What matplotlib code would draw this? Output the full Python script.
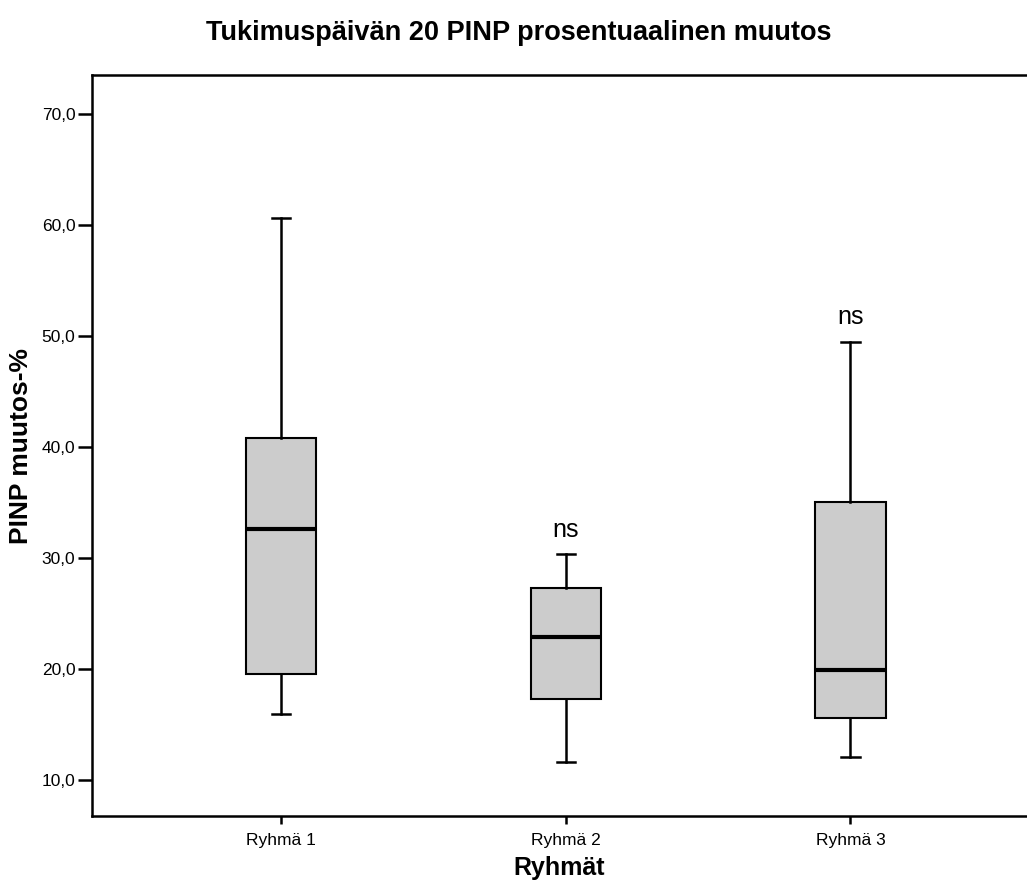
import matplotlib
matplotlib.use('Agg')
import matplotlib.pyplot as plt  # noqa

plt.rcParams.update({
    'font.family': ['Liberation Sans', 'DejaVu Sans'],
})

groups = ['Ryhmä 1', 'Ryhmä 2', 'Ryhmä 3']
whisker_low = [15.95, 11.7, 12.1]
q1 = [19.55, 17.3, 15.6]
median = [32.6, 22.9, 19.9]
q3 = [40.8, 27.3, 35.1]
whisker_high = [60.6, 30.4, 49.5]
sig_labels = ['', 'ns', 'ns']
yticks = [10, 20, 30, 40, 50, 60, 70]

stats = []
for i, name in enumerate(groups):
    stats.append({
        'label': name,
        'whislo': whisker_low[i],
        'q1': q1[i],
        'med': median[i],
        'q3': q3[i],
        'whishi': whisker_high[i],
        'fliers': [],
    })

fig = plt.figure(figsize=(10.27, 8.89), dpi=100)
ax = fig.add_axes([0.0896, 0.0821, 0.9104, 0.8335])

positions = list(range(1, len(groups) + 1))
ax.bxp(
    stats, positions=positions, widths=0.246, patch_artist=True,
    showfliers=False,
    boxprops=dict(facecolor='#cccccc', edgecolor='black', linewidth=1.5),
    medianprops=dict(color='black', linewidth=3),
    whiskerprops=dict(color='black', linewidth=1.8),
    capprops=dict(color='black', linewidth=1.8),
    capwidths=0.064,
)

for pos, lab, top in zip(positions, sig_labels, whisker_high):
    if lab:
        ax.text(pos, top + 1.1, lab, ha='center', va='bottom', fontsize=18)

ax.set_xlim(0.336, 3.62)
ax.set_ylim(6.8, 73.5)
ax.set_yticks(yticks)
ax.set_yticklabels([('%.1f' % v).replace('.', ',') for v in yticks])
ax.set_xticks(positions)
ax.set_xticklabels(groups)

ax.tick_params(axis='y', length=10, width=1.8, labelsize=12.5, pad=2)
ax.tick_params(axis='x', length=6, width=1.8, labelsize=12.5, pad=6)
ax.spines['right'].set_visible(False)
for side in ax.spines.values():
    side.set_linewidth(1.8)

ax.set_xlabel('Ryhmät', fontsize=18, fontweight='bold', labelpad=6)
ax.set_ylabel('PINP muutos-%', fontsize=19, fontweight='bold', labelpad=6)
fig.suptitle('Tukimuspäivän 20 PINP prosentuaalinen muutos',
             fontsize=19.5, fontweight='bold', x=0.505, y=0.978)

fig.savefig('out.png', dpi=100)
